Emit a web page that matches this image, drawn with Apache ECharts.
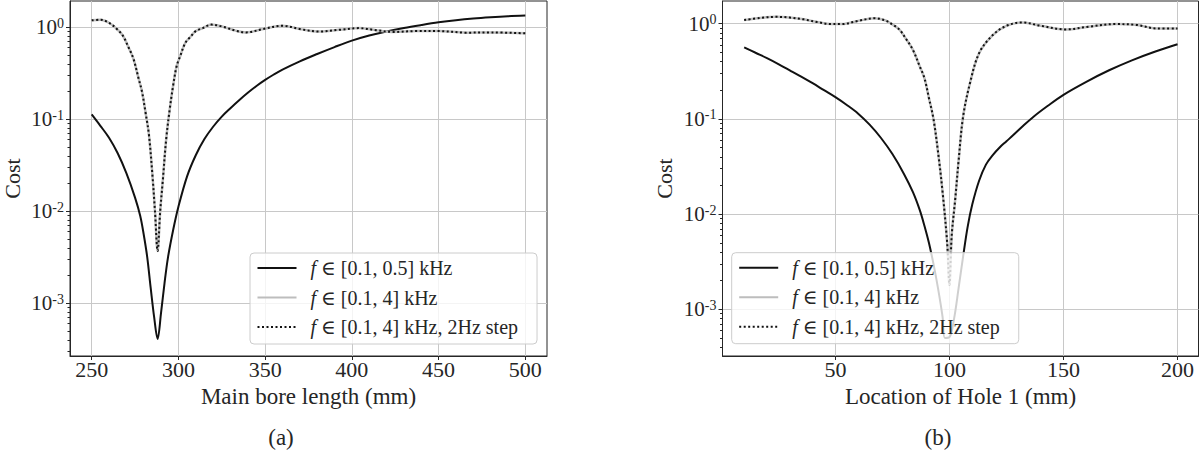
<!DOCTYPE html>
<html>
<head>
<meta charset="utf-8">
<script src="https://cdn.jsdelivr.net/npm/echarts@6/dist/echarts.min.js"></script>
<style>
  html, body { margin: 0; padding: 0; background: #fff; }
  #chart { width: 1200px; height: 451px; }
</style>
</head>
<body>
<div id="chart"></div>
<script>
// --- data: panel (a), cost vs main bore length ---
var aLenX = [250, 255, 260, 265, 270, 275, 278, 280, 282, 284, 286, 288, 290, 292, 294, 297, 300, 305, 310, 315, 320, 325, 330, 335, 340, 345, 350, 355, 360, 370, 380, 390, 400, 410, 420, 430, 440, 450, 460, 470, 480, 490, 500];
var aCostLow = [0.113, 0.085, 0.063, 0.0427, 0.026, 0.0141, 0.0089, 0.0056, 0.0032, 0.00148, 0.00071, 0.00041, 0.00079, 0.00166, 0.00316, 0.0063, 0.0112, 0.024, 0.0407, 0.061, 0.083, 0.107, 0.132, 0.161, 0.194, 0.230, 0.268, 0.307, 0.347, 0.427, 0.513, 0.61, 0.716, 0.813, 0.902, 0.984, 1.059, 1.132, 1.194, 1.245, 1.285, 1.318, 1.34];

var aLenX2 = [250, 255, 260, 265, 268, 271, 274, 277, 279, 281, 283, 285, 286.5, 288, 289.5, 291, 293, 295, 297, 299, 301, 304, 307, 310, 314, 319, 326, 333, 339, 349, 360, 371, 381, 393, 404, 414, 424, 437, 450, 466, 481, 500];
var aCostFull = [1.19, 1.21, 1.12, 0.94, 0.81, 0.62, 0.46, 0.28, 0.20, 0.12, 0.068, 0.025, 0.010, 0.0037, 0.010, 0.0216, 0.062, 0.129, 0.235, 0.38, 0.484, 0.68, 0.79, 0.91, 0.98, 1.07, 1.01, 0.92, 0.88, 0.96, 1.04, 0.95, 0.90, 0.94, 0.98, 0.93, 0.89, 0.91, 0.91, 0.875, 0.88, 0.86];
var aCostStep = [1.19, 1.21, 1.12, 0.94, 0.81, 0.62, 0.46, 0.28, 0.20, 0.12, 0.068, 0.025, 0.010, 0.0037, 0.010, 0.0216, 0.062, 0.129, 0.235, 0.38, 0.484, 0.68, 0.79, 0.91, 0.98, 1.07, 1.01, 0.92, 0.88, 0.96, 1.04, 0.95, 0.90, 0.94, 0.98, 0.93, 0.89, 0.91, 0.91, 0.875, 0.88, 0.86];

// --- data: panel (b), cost vs location of hole 1 ---
var bLocX = [10, 15, 20, 25, 30, 35, 40, 45, 50, 55, 60, 65, 70, 75, 80, 84, 87, 89, 91, 93, 95, 97, 98, 100, 102, 104, 106, 108, 110, 113, 116, 119, 122, 125, 128, 132, 137, 143, 150, 160, 170, 180, 190, 200];
var bCostLow = [0.565, 0.495, 0.435, 0.377, 0.324, 0.278, 0.237, 0.2, 0.169, 0.14, 0.1135, 0.087, 0.063, 0.0427, 0.0266, 0.017, 0.011, 0.0076, 0.005, 0.003, 0.00166, 0.00083, 0.0005, 0.00051, 0.00079, 0.00166, 0.0036, 0.0074, 0.0126, 0.0224, 0.0331, 0.0417, 0.0501, 0.0582, 0.0676, 0.0832, 0.106, 0.1365, 0.179, 0.245, 0.324, 0.412, 0.507, 0.607];

var bLocX2 = [10, 17, 24, 30, 36, 42, 48, 53, 60, 67, 72, 75, 78, 81, 84, 87, 89, 91, 93, 95, 97, 99, 100, 101, 102.5, 104, 106, 109, 113, 119, 125, 132, 140, 151, 161, 173, 182, 191, 200];
var bCostFull = [1.09, 1.15, 1.18, 1.16, 1.11, 1.04, 0.99, 0.99, 1.07, 1.14, 1.08, 0.98, 0.87, 0.69, 0.53, 0.355, 0.27, 0.166, 0.10, 0.045, 0.017, 0.005, 0.0018, 0.006, 0.014, 0.036, 0.106, 0.237, 0.49, 0.76, 0.95, 1.03, 0.95, 0.87, 0.93, 0.99, 0.97, 0.89, 0.89];
var bCostStep = [1.09, 1.15, 1.18, 1.16, 1.11, 1.04, 0.99, 0.99, 1.07, 1.14, 1.08, 0.98, 0.87, 0.69, 0.53, 0.355, 0.27, 0.166, 0.10, 0.045, 0.017, 0.005, 0.0018, 0.006, 0.014, 0.036, 0.106, 0.237, 0.49, 0.76, 0.95, 1.03, 0.95, 0.87, 0.93, 0.99, 0.97, 0.89, 0.89];

// --- ticks ---
var aXTicks = [250, 300, 350, 400, 450, 500];
var bXTicks = [50, 100, 150, 200];
var yTicks = [0.001, 0.01, 0.1, 1];
var minorMant = [2, 3, 4, 5, 6, 7, 8, 9];
var minorDecades = [0.0001, 0.001, 0.01, 0.1];

var names = ['f ∈ [0.1, 0.5] kHz', 'f ∈ [0.1, 4] kHz', 'f ∈ [0.1, 4] kHz, 2Hz step'];

(function() {
  var ink = '#262626';
  var gridC = '#c8c8c8';
  var font = '"Liberation Serif", "DejaVu Serif", serif';

  function pairs(xs, ys) { return xs.map(function(x, i) { return [x, ys[i]]; }); }
  function minorIn(lo, hi) {
    var out = [];
    minorDecades.forEach(function(d) {
      minorMant.forEach(function(m) { var v = m * d; if (v > lo && v < hi) out.push(v); });
    });
    return out;
  }

  var yRange = [
    { min: 2.673e-4, max: 1.932 },
    { min: 3.236e-4, max: 1.73 }
  ];
  var xRange = [
    { min: 237.5, max: 512.5, ticks: aXTicks, name: 'Main bore length (mm)' },
    { min: 0.5, max: 209.2, ticks: bXTicks, name: 'Location of Hole 1 (mm)' }
  ];

  var xAxes = [], yAxes = [];
  [0, 1].forEach(function(g) {
    xAxes.push({
      gridIndex: g, type: 'value', min: xRange[g].min, max: xRange[g].max,
      name: xRange[g].name, nameLocation: 'middle', nameGap: 24,
      nameTextStyle: { fontFamily: font, fontSize: 23, color: ink },
      axisLine: { show: true, onZero: false, lineStyle: { color: ink, width: 1 } },
      axisTick: { show: true, length: 4, lineStyle: { color: ink }, customValues: xRange[g].ticks },
      axisLabel: { customValues: xRange[g].ticks, margin: 2, fontFamily: font, fontSize: 22, color: ink },
      splitLine: { show: true, lineStyle: { color: gridC, width: 1 } }
    });
    yAxes.push({
      gridIndex: g, type: 'log', logBase: 10, min: yRange[g].min, max: yRange[g].max,
      name: 'Cost', nameLocation: 'middle', nameGap: 49, nameRotate: 90,
      nameTextStyle: { fontFamily: font, fontSize: 22, lineHeight: 18, color: ink },
      axisLine: { show: true, lineStyle: { color: ink, width: 1 } },
      axisTick: { show: true, length: 4, lineStyle: { color: ink }, customValues: yTicks },
      axisLabel: {
        customValues: yTicks, margin: 6, color: ink,
        formatter: function(v) {
          var e = Math.round(Math.log10(v));
          return '{b|10}{s|' + e + '}';
        },
        rich: {
          b: { fontFamily: font, fontSize: 21, color: ink, lineHeight: 22 },
          s: { fontFamily: font, fontSize: 14, color: ink, verticalAlign: 'top', lineHeight: 14 }
        }
      },
      splitLine: { show: true, lineStyle: { color: gridC, width: 1 } }
    });
    // minor ticks on the log axis
    yAxes.push({
      gridIndex: g, type: 'log', logBase: 10, min: yRange[g].min, max: yRange[g].max,
      position: 'left',
      axisLine: { show: false },
      axisTick: { show: true, length: 2.5, lineStyle: { color: ink }, customValues: minorIn(yRange[g].min, yRange[g].max) },
      axisLabel: { show: false },
      splitLine: { show: false }
    });
  });

  function legendFmt(name) { return '{i|f}' + name.slice(1); }
  function makeLegend(left, top) {
    return {
      orient: 'vertical', left: left, top: top, data: names,
      itemWidth: 39, itemHeight: 14, itemGap: 7.5,
      padding: [4, 19, 6, 6.5],
      backgroundColor: 'rgba(255,255,255,0.8)',
      borderColor: '#cccccc', borderWidth: 1, borderRadius: 4,
      itemStyle: { opacity: 0 },
      formatter: legendFmt,
      textStyle: {
        fontFamily: font, fontSize: 20, lineHeight: 22, color: ink, padding: [0, 0, 0, 9],
        rich: { i: { fontFamily: font, fontStyle: 'italic', fontSize: 20, color: ink } }
      }
    };
  }

  function lowSeries(g, xs, ys) {
    return { name: names[0], type: 'line', xAxisIndex: g, yAxisIndex: g * 2, data: pairs(xs, ys),
      symbol: 'none', smooth: 0.35, z: 1, lineStyle: { color: '#111111', width: 2 } };
  }
  function fullSeries(g, xs, ys) {
    return { name: names[1], type: 'line', xAxisIndex: g, yAxisIndex: g * 2, data: pairs(xs, ys),
      symbol: 'none', smooth: 0.35, z: 2, lineStyle: { color: '#bdbdbd', width: 2.5 } };
  }
  function stepSeries(g, xs, ys) {
    return { name: names[2], type: 'line', xAxisIndex: g, yAxisIndex: g * 2, data: pairs(xs, ys),
      symbol: 'none', smooth: 0.35, z: 3, lineStyle: { color: '#111111', width: 2, type: [2, 2.5] } };
  }

  var chart = echarts.init(document.getElementById('chart'), null, { renderer: 'svg' });
  chart.setOption({
    animation: false,
    backgroundColor: '#ffffff',
    grid: [
      { left: 70, top: 1, width: 477, height: 355, show: true, borderColor: ink, borderWidth: 1, backgroundColor: 'transparent', outerBoundsMode: 'none' },
      { left: 722.5, top: 1, width: 476, height: 355, show: true, borderColor: ink, borderWidth: 1, backgroundColor: 'transparent', outerBoundsMode: 'none' }
    ],
    legend: [makeLegend(250, 253), makeLegend(731.7, 252.7)],
    xAxis: xAxes,
    yAxis: yAxes,
    series: [
      lowSeries(0, aLenX, aCostLow),
      fullSeries(0, aLenX2, aCostFull),
      stepSeries(0, aLenX2, aCostStep),
      lowSeries(1, bLocX, bCostLow),
      fullSeries(1, bLocX2, bCostFull),
      stepSeries(1, bLocX2, bCostStep)
    ],
    graphic: [
      { type: 'text', x: 281, y: 437, style: { text: '(a)', fontFamily: font, fontSize: 23, fill: ink, align: 'center', verticalAlign: 'middle' } },
      { type: 'text', x: 938, y: 437, style: { text: '(b)', fontFamily: font, fontSize: 23, fill: ink, align: 'center', verticalAlign: 'middle' } }
    ]
  });
  window.addEventListener('resize', function() { chart.resize(); });
})();
</script>
</body>
</html>
